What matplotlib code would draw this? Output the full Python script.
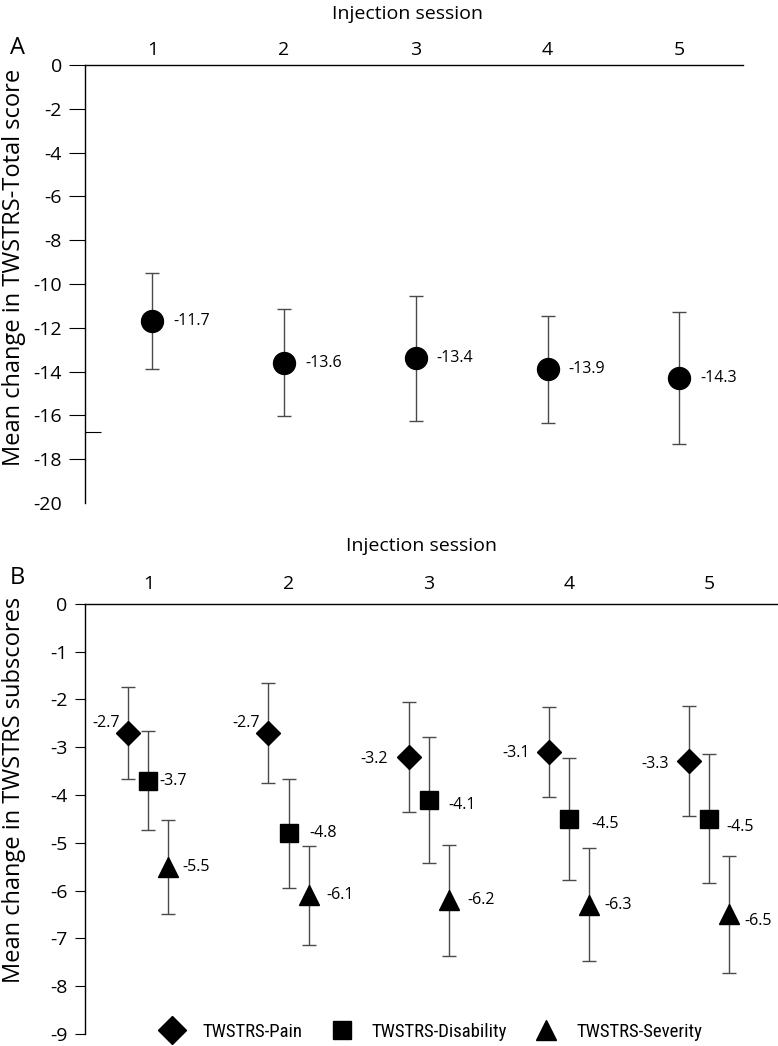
import numpy as np
import matplotlib
matplotlib.use('Agg')
import matplotlib.pyplot as plt
from matplotlib.lines import Line2D

plt.rcParams['font.family'] = ['Open Sans', 'DejaVu Sans']
plt.rcParams['axes.unicode_minus'] = False

# data
sessions = [1, 2, 3, 4, 5]
session_labels = ['1', '2', '3', '4', '5']

total_mean = [-11.7, -13.6, -13.4, -13.9, -14.3]
total_sd = [2.2, 2.45, 2.85, 2.45, 3.0]

pain_mean = [-2.7, -2.7, -3.2, -3.1, -3.3]
pain_sd = [0.96, 1.05, 1.15, 0.94, 1.15]
disab_mean = [-3.7, -4.8, -4.1, -4.5, -4.5]
disab_sd = [1.03, 1.14, 1.32, 1.27, 1.35]
sev_mean = [-5.5, -6.1, -6.2, -6.3, -6.5]
sev_sd = [0.98, 1.03, 1.16, 1.18, 1.23]

series_names = ['TWSTRS-Pain', 'TWSTRS-Disability', 'TWSTRS-Severity']

W, H = 778, 1046
fig = plt.figure(figsize=(W / 100, H / 100), dpi=100)

bar_kw = dict(ecolor='#4a4a4a', elinewidth=1.0, capsize=4.7, capthick=1.0, color='k', linestyle='none')


def style_axis(ax, ylim, yticks, tick_len, xpad):
    ax.set_ylim(*ylim)
    ax.set_yticks(yticks)
    ax.set_yticklabels([f'{t:g}' for t in yticks])
    ax.spines['bottom'].set_visible(False)
    ax.spines['right'].set_visible(False)
    ax.spines['left'].set_linewidth(1.0)
    ax.spines['top'].set_linewidth(1.0)
    ax.xaxis.tick_top()
    ax.xaxis.set_label_position('top')
    ax.set_xticks(sessions)
    ax.set_xticklabels(session_labels)
    ax.tick_params(axis='x', length=0, pad=xpad, labelsize=14)
    ax.tick_params(axis='y', length=tick_len, width=0.8, pad=5, labelsize=14)


# ---- panel A ----
axA = fig.add_axes([85 / W, 1 - 503 / H, 658 / W, 438 / H])
axA.set_xlim(0.489, 5.483)
style_axis(axA, (-20, 0), np.arange(0, -21, -2), 11.5, 4)
axA.yaxis.get_major_ticks()[-1].tick1line.set_visible(False)
axA.set_yticks([-16.76], minor=True)
axA.tick_params(axis='y', which='minor', direction='in', length=11.5, width=0.8)
axA.errorbar(sessions, total_mean, yerr=total_sd, marker='o', ms=15.8, **bar_kw)
for x, m in zip(sessions, total_mean):
    axA.annotate(f'{m:g}', (x, m), xytext=(15, 0), textcoords='offset points',
                 ha='left', va='center', fontsize=11.5)
axA.set_xlabel('Injection session', fontsize=14)
axA.xaxis.set_label_coords(0.49, 1.105)
axA.set_ylabel('Mean change in TWSTRS-Total score', fontsize=17)
axA.yaxis.set_label_coords(-0.0897, 0.537)
fig.text(10 / W, 1 - 48 / H, 'A', fontsize=17, ha='left', va='center')

# ---- panel B ----
axB = fig.add_axes([85 / W, 1 - 1034 / H, 693 / W, 430.3 / H])
axB.set_xlim(0.549, 5.49)
style_axis(axB, (-9, 0), np.arange(0, -10, -1), 7.5, 7.5)
dx = 0.143
xs = np.array(sessions, dtype=float)
axB.errorbar(xs - dx, pain_mean, yerr=pain_sd, marker='D', ms=12.7, **bar_kw)
axB.errorbar(xs, disab_mean, yerr=disab_sd, marker='s', ms=13, **bar_kw)
axB.errorbar(xs + dx, sev_mean, yerr=sev_sd, marker='^', ms=14.5, **bar_kw)

pain_off = [(-6, 7), (-6, 7), (-15, -2), (-14, -1), (-15, -2)]
disab_off = [(8, 0), (15, 0), (14, -4), (16, -4), (12, -6)]
sev_off = [(10, 0), (13, 0), (13, 0), (11, 0), (11, -5)]
for i, x in enumerate(xs):
    axB.annotate(f'{pain_mean[i]:g}', (x - dx, pain_mean[i]), xytext=pain_off[i],
                 textcoords='offset points', ha='right', va='center', fontsize=11.5)
    axB.annotate(f'{disab_mean[i]:g}', (x, disab_mean[i]), xytext=disab_off[i],
                 textcoords='offset points', ha='left', va='center', fontsize=11.5)
    axB.annotate(f'{sev_mean[i]:g}', (x + dx, sev_mean[i]), xytext=sev_off[i],
                 textcoords='offset points', ha='left', va='center', fontsize=11.5)

axB.set_xlabel('Injection session', fontsize=14)
axB.xaxis.set_label_coords(0.485, 1.1225)
axB.set_ylabel('Mean change in TWSTRS subscores', fontsize=17)
axB.yaxis.set_label_coords(-0.0851, 0.567)
fig.text(10 / W, 1 - 578 / H, 'B', fontsize=17, ha='left', va='center')

handles = [Line2D([], [], marker=m, color='k', linestyle='none', ms=s)
           for m, s in zip(['D', 's', '^'], [14, 13.5, 15])]
axB.legend(handles, series_names, loc='center', bbox_to_anchor=(0.5, 0.005), ncol=3,
           frameon=False, handletextpad=1.0, columnspacing=1.5, handlelength=1.2,
           prop={'family': ['DejaVu Sans Condensed', 'Liberation Sans Narrow',
                            'Roboto Condensed', 'Roboto'], 'size': 13.5})

fig.savefig('out.png', dpi=100)
